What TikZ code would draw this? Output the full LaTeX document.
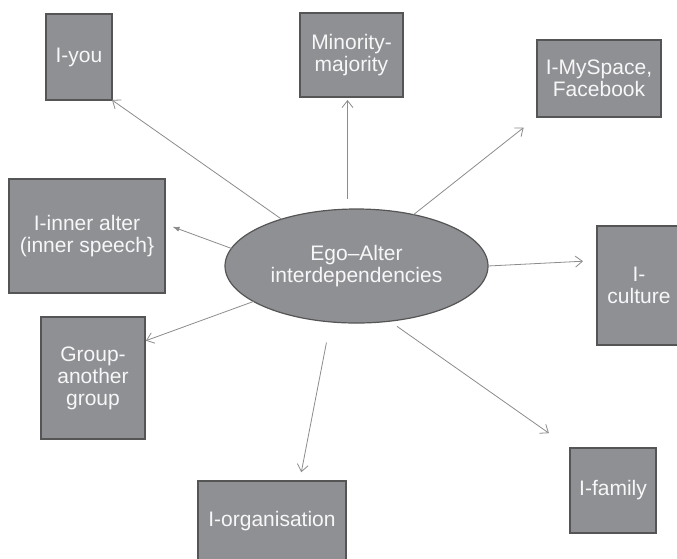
\documentclass[tikz,border=0pt]{standalone}
\usepackage{fontspec}
\setmainfont{Liberation Sans}
\usetikzlibrary{arrows.meta,calc,shapes.geometric}
\definecolor{boxfill}{HTML}{8F9094}
\definecolor{boxline}{HTML}{555555}
\definecolor{arrcol}{HTML}{8C8C8C}
\definecolor{txt}{HTML}{F7F7F7}
\begin{document}
\begin{tikzpicture}[x=1pt,y=-1pt,
  box/.style={draw=boxline,line width=1.2pt,fill=boxfill,text=txt,align=center,
    inner sep=0pt,outer sep=0pt,font=\fontsize{21}{22}\selectfont},
  arr/.style={draw=arrcol,line width=0.8pt,-{Straight Barb[length=7pt,width=11pt]}}]
\clip (0,0) rectangle (677,558);
\useasboundingbox (0,0) rectangle (677,558);
\fill[white] (0,0) rectangle (677,558);
% boxes
\node[box,minimum width=66pt,minimum height=86pt] (iyou) at (79,57) {I-you};
\node[box,minimum width=103pt,minimum height=84pt] (minority) at (351.5,55) {Minority-\\majority};
\node[box,minimum width=124pt,minimum height=77pt] (myspace) at (599,78.5) {I-MySpace,\\Facebook};
\node[box,minimum width=156pt,minimum height=114pt] (inner) at (87,236) {I-inner alter\\(inner speech\}};
\node[box,minimum width=104pt,minimum height=122pt] (group) at (93,378) {Group-\\another\\group};
\node[box,minimum width=148pt,minimum height=80pt] (org) at (272,521) {I-organisation};
\node[box,minimum width=84pt,minimum height=119pt] (culture) at (639,285.5) {I-\\culture};
\node[box,minimum width=86pt,minimum height=85pt] (family) at (613,490.5) {I-family};
% ellipse
\node[box,ellipse,minimum width=263pt,minimum height=114pt] (ego) at (356.5,266) {Ego--Alter\\interdependencies};
% connectors
\draw[arr] (ego.148.9) -- (iyou.south east);
\draw[arr,shorten <=10.5pt,shorten >=3pt] (ego.99.2) -- (ego.99.2 |- minority.south);
\draw[arr,shorten >=17pt] (ego.42.6) -- (myspace.south west);
\draw[draw=arrcol,line width=0.8pt,-{Latex[length=7pt,width=5pt]},shorten >=8pt] (ego.172.3) -- ([yshift=12pt]inner.east);
\draw[arr,shorten >=1pt] (ego.199.2) -- ([yshift=37pt]group.east);
\draw[arr,shorten >=14pt] (ego.0.4) -- ([yshift=25pt]culture.west);
\draw[arr,shorten <=9pt,shorten >=25.8pt] (ego.-59.2) -- (family.north west);
\draw[arr,shorten <=21pt,shorten >=9pt] (ego.-115.3) -- ([xshift=27.6pt]org.north);
\end{tikzpicture}
\end{document}
